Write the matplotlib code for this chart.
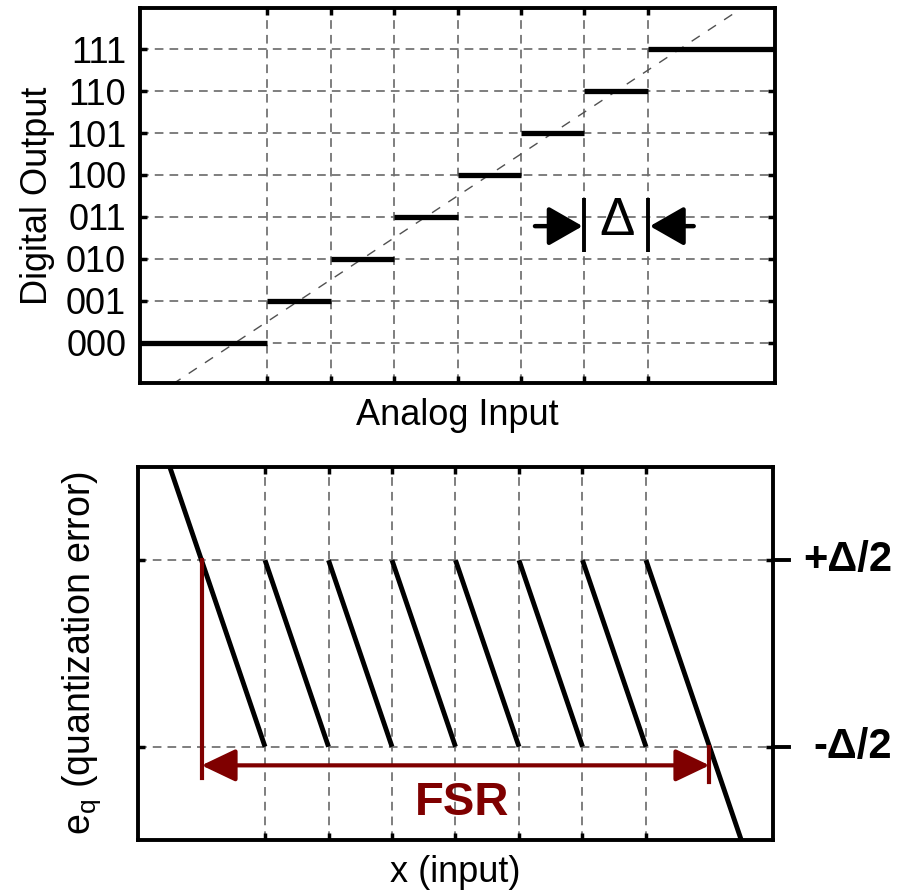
import matplotlib
matplotlib.use("Agg")
import matplotlib.pyplot as plt
import matplotlib.transforms as mtransforms

plt.rcParams['font.family'] = ['Liberation Sans', 'DejaVu Sans']
plt.rcParams['mathtext.fontset'] = 'custom'
plt.rcParams['mathtext.rm'] = 'Liberation Sans'

# ---- data (x in units of one LSB, Delta) ----
grid_x = [1, 2, 3, 4, 5, 6, 7]
codes = [0, 1, 2, 3, 4, 5, 6, 7]
code_labels = ['000', '001', '010', '011', '100', '101', '110', '111']
step_start = [-1, 1, 2, 3, 4, 5, 6, 7]
step_end = [1, 2, 3, 4, 5, 6, 7, 9]
ideal_x = [-1, 9]
ideal_y = [-1.5, 8.5]

saw_x0 = [-0.5, 1, 2, 3, 4, 5, 6, 7]
saw_x1 = [1, 2, 3, 4, 5, 6, 7, 8.5]
saw_e0 = [1.0, 0.5, 0.5, 0.5, 0.5, 0.5, 0.5, 0.5]
saw_e1 = [-0.5, -0.5, -0.5, -0.5, -0.5, -0.5, -0.5, -1.0]
err_levels = [-0.5, 0.5]
err_labels = ['-\u0394/2', '+\u0394/2']
fsr_lo, fsr_hi = 0, 8

FS = 26
RED = '#7f0000'
GRID = dict(color='#6e6e6e', linestyle=(0, (5, 3.5)), linewidth=1.25)

fig = plt.figure(figsize=(9.11, 8.93), dpi=100)
ax1 = fig.add_axes([0.1537, 0.5711, 0.697, 0.4199])
ax2 = fig.add_axes([0.1515, 0.0594, 0.697, 0.4177])

for ax in (ax1, ax2):
    for s in ax.spines.values():
        s.set_linewidth(2.8)
    ax.set_xlim(-1, 9)
    ax.set_xticks(grid_x)
    ax.set_xticklabels([])
    ax.tick_params(direction='in', top=True, right=True, length=5, width=2.5,
                   labelsize=FS, pad=10)
    ax.grid(True, **GRID)
    ax.set_axisbelow(True)

# ---- top: transfer characteristic ----
ax1.set_ylim(-0.96, 7.98)
ax1.set_yticks(codes)
ax1.set_yticklabels(code_labels)
ax1.plot(ideal_x, ideal_y, color='#505050', lw=1.0, linestyle=(0, (7, 7)), zorder=2)
ax1.hlines(codes, step_start, step_end, color='black', lw=3.8, zorder=3)
ax1.set_xlabel('Analog Input', fontsize=FS)
ax1.xaxis.set_label_coords(0.5, -0.04)
ax1.set_ylabel('Digital Output', fontsize=FS)
ax1.yaxis.set_label_coords(-0.134, 0.5)

# delta marker between the 110 and 111 transitions
y_arr = 2.78
ax1.vlines([6, 7], 2.17, 3.46, color='black', lw=2.8, zorder=4)
arrow = dict(arrowstyle='-|>,head_length=1.05,head_width=0.6', color='black',
             lw=3.2, shrinkA=0, shrinkB=0, mutation_scale=20)
ax1.annotate('', xy=(5.97, y_arr), xytext=(5.22, y_arr), arrowprops=arrow, zorder=4)
ax1.annotate('', xy=(7.03, y_arr), xytext=(7.72, y_arr), arrowprops=arrow, zorder=4)
ax1.text(6.52, 2.9, '\u0394', fontsize=38, ha='center', va='center')

# ---- bottom: quantization error ----
ax2.set_ylim(-1.0, 1.0)
ax2.set_yticks(err_levels)
ax2.set_yticklabels([])
for x0, x1, e0, e1 in zip(saw_x0, saw_x1, saw_e0, saw_e1):
    ax2.plot([x0, x1], [e0, e1], color='black', lw=3.5, solid_capstyle='butt', zorder=3)

tr = mtransforms.blended_transform_factory(ax2.transAxes, ax2.transData)
for lev, lab in zip(err_levels, err_labels):
    ax2.plot([1.0, 1.026], [lev, lev], color='black', lw=2.8, transform=tr, clip_on=False)
    ax2.text(1.188, lev, lab, fontsize=30, fontweight='bold', ha='right', va='center',
             transform=tr)

# full-scale range arrow
y_fsr = -0.6
ax2.plot([fsr_lo, fsr_lo], [0.5, -0.67], color=RED, lw=3, zorder=4)
ax2.plot([fsr_hi, fsr_hi], [-0.5, -0.69], color=RED, lw=3, zorder=4)
ax2.annotate('', xy=(fsr_lo, y_fsr), xytext=(fsr_hi, y_fsr), zorder=4,
             arrowprops=dict(arrowstyle='<|-|>,head_length=1.05,head_width=0.5',
                             color=RED, lw=3, shrinkA=0, shrinkB=0, mutation_scale=20))
ax2.text(4.1, -0.8, 'FSR', fontsize=34, fontweight='bold', color=RED,
         ha='center', va='center')

ax2.set_xlabel('x (input)', fontsize=FS)
ax2.xaxis.set_label_coords(0.5, -0.04)
ax2.set_ylabel(r'$\mathregular{e_q}$ (quantization error)', fontsize=27)
ax2.yaxis.set_label_coords(-0.055, 0.5)

fig.savefig('out.png', dpi=100, facecolor='white')
